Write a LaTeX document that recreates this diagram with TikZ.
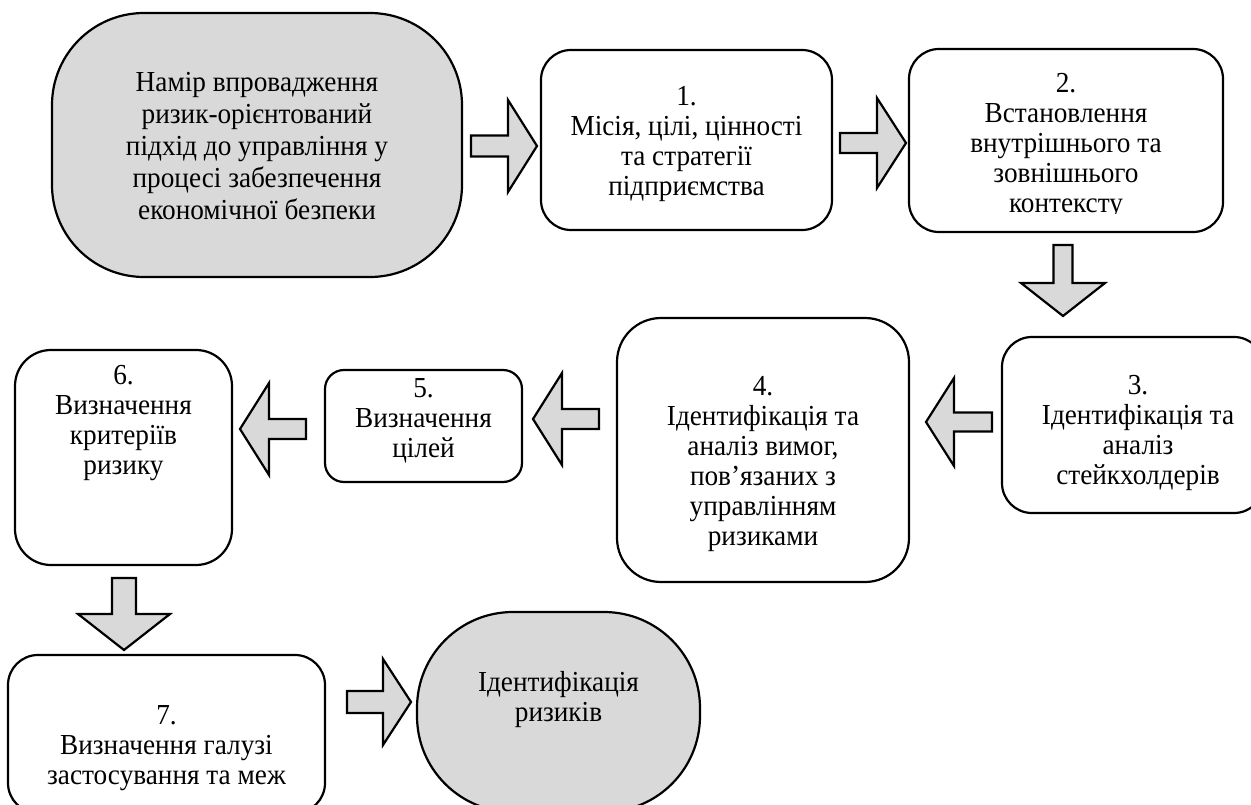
\documentclass[tikz,border=0pt]{standalone}
\usepackage{fontspec}
\setmainfont{Liberation Serif}[FakeStretch=0.94]
\definecolor{boxgray}{RGB}{217,217,217}
\newcommand\blockarr[7]{% x, y (tail centre), rotation, length, shaft length, shaft width, head width
  \draw[barrow, shift={(#1,#2)}, rotate=#3]
    (0,-#6/2) -- (#5,-#6/2) -- (#5,-#7/2) -- (#4,0) -- (#5,#7/2) -- (#5,#6/2) -- (0,#6/2) -- cycle;}
\begin{document}
\begin{tikzpicture}[x=1pt,y=-1pt,
  box/.style={draw, line width=2.2pt, fill=white, inner sep=0pt, rectangle},
  gbox/.style={box, fill=boxgray},
  txt/.style={align=center, font=\fontsize{29}{30}\selectfont, inner sep=0pt},
  barrow/.style={draw, line width=2.2pt, fill=boxgray, line join=miter}]
\useasboundingbox (0,0) rectangle (1251,805);
\fill[white] (0,0) rectangle (1251,805);

% shapes
\node[gbox, rounded corners=92pt, minimum width=410pt, minimum height=264pt] (s) at (257,145) {};
\node[box, rounded corners=30pt, minimum width=291pt, minimum height=180pt] (b1) at (686.5,140) {};
\node[box, rounded corners=30pt, minimum width=314pt, minimum height=183pt] (b2) at (1066,140.5) {};
\node[box, rounded corners=30pt, minimum width=262pt, minimum height=176pt] (b3) at (1133,425) {};
\node[box, rounded corners=44pt, minimum width=292pt, minimum height=264pt] (b4) at (763,450) {};
\node[box, rounded corners=19pt, minimum width=197pt, minimum height=112pt] (b5) at (423.5,426) {};
\node[box, rounded corners=36pt, minimum width=217pt, minimum height=215pt] (b6) at (123.5,457.5) {};
\node[box, rounded corners=30pt, minimum width=317pt, minimum height=158pt] (b7) at (166.5,734) {};
\node[gbox, rounded corners=96pt, minimum width=283pt, minimum height=200pt] (e) at (558.5,712) {};

% texts
\node[txt, font=\fontsize{29}{32}\selectfont] (ts) at (257,146) {Намір впровадження\\ризик-орієнтований\\підхід до управління у\\процесі забезпечення\\економічної безпеки};
\node[txt] (t1) at (686.5,144) {1.\\Місія, цілі, цінності\\та стратегії\\підприємства};
\begin{scope}
  \clip (905,45) rectangle (1228,214);
  \node[txt] (t2) at (1066,146) {2.\\Встановлення\\внутрішнього та\\зовнішнього\\контексту};
\end{scope}
\node[txt] (t3) at (1138,433) {3.\\Ідентифікація та\\аналіз\\стейкхолдерів};
\node[txt] (t4) at (763,464) {4.\\Ідентифікація та\\аналіз вимог,\\пов’язаних з\\управлінням\\ризиками};
\node[txt] (t5) at (423.5,421) {5.\\Визначення\\цілей};
\node[txt] (t6) at (123.5,423) {6.\\Визначення\\критеріїв\\ризику};
\node[txt] (t7) at (166.5,748) {7.\\Визначення галузі\\застосування та меж};
\node[txt] (te) at (558.5,700) {Ідентифікація\\ризиків};

% block arrows
\blockarr{471}{146}{0}{66}{37}{21}{92}
\blockarr{840}{143}{0}{66}{37}{20}{90}
\blockarr{1063}{245}{-90}{71}{38}{19}{84}
\blockarr{992}{422}{180}{66}{38}{19}{88}
\blockarr{599}{419}{180}{66}{37}{20}{92}
\blockarr{306}{429}{180}{66}{37}{20}{92}
\blockarr{124}{578}{-90}{72}{36}{24}{92}
\blockarr{347}{702}{0}{64}{36}{22}{86}
\end{tikzpicture}
\end{document}
